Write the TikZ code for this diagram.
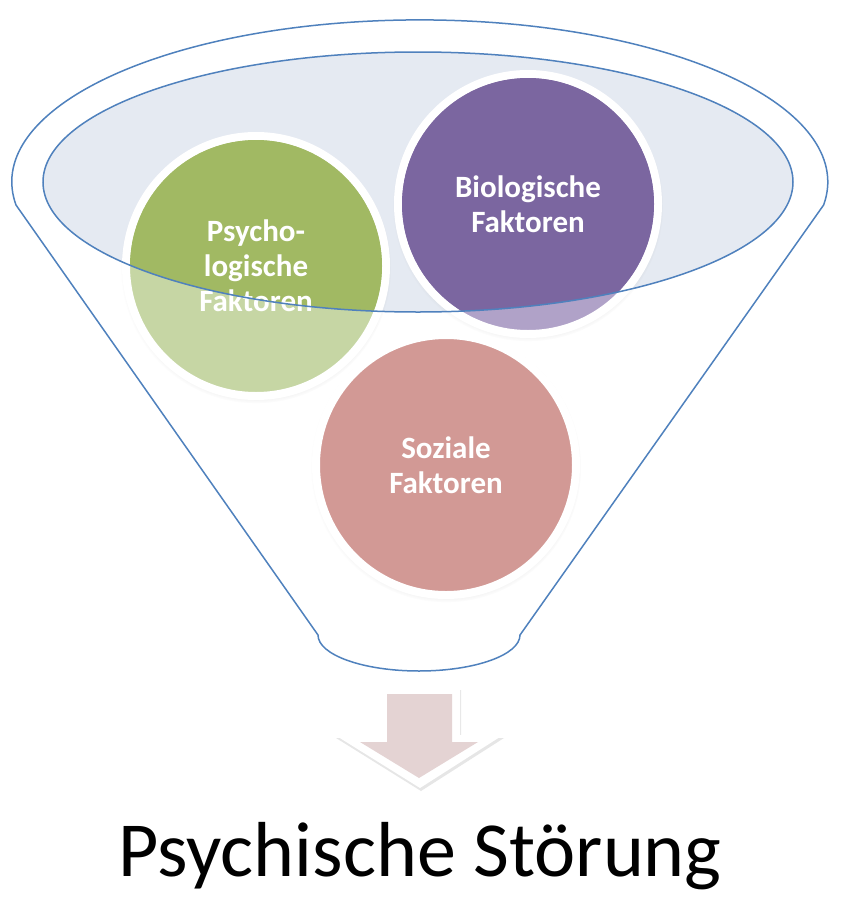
\documentclass[tikz,border=0pt]{standalone}
\usepackage{fontspec}
\setmainfont{Carlito}
\usetikzlibrary{shadows}
\definecolor{funnelblue}{HTML}{4F81BD}
\definecolor{ellblue}{HTML}{E5EAF2}
\definecolor{psyfull}{HTML}{A1B963}
\definecolor{psyfade}{HTML}{C6D6A4}
\definecolor{biofull}{HTML}{7B66A0}
\definecolor{biofade}{HTML}{B0A2C8}
\definecolor{sozfade}{HTML}{D29995}
\definecolor{arrowfill}{HTML}{E4D3D3}
\begin{document}
\begin{tikzpicture}[x=1pt,y=-1pt,
  every node/.style={inner sep=0pt},
  ball/.style={circle,minimum size=260pt,draw=white,line width=8pt,
    circular drop shadow={shadow xshift=0pt,shadow yshift=-2pt,shadow scale=1.04,opacity=0.35}},
  lbl/.style={text=white,align=center,font=\bfseries\fontsize{31}{35}\selectfont},
  rim/.style={draw=funnelblue,line width=1.5pt}]
\useasboundingbox (0,0) rectangle (858,900);
\draw[rim,fill=white] (16,205) arc[start angle=171.8,end angle=368.2,x radius=408,y radius=162]
  -- (520,635) arc[start angle=0,end angle=180,x radius=101,y radius=36] -- cycle;
\fill[ellblue] (418,182) ellipse[x radius=375,y radius=130];
\node[ball,fill=psyfade] (psy) at (256,266) {};
\node[ball,fill=biofade] (bio) at (528,204) {};
\node[ball,fill=sozfade] (soz) at (446,465) {};
\begin{scope}
\clip (418,182) ellipse[x radius=375,y radius=130];
\fill[psyfull] (psy) circle[radius=126];
\fill[biofull] (bio) circle[radius=126];
\end{scope}
\node[lbl] (psytext) at (psy) {Psycho-\\logische\\Faktoren};
\node[lbl] (biotext) at (bio) {Biologische\\Faktoren};
\node[lbl] (soztext) at (soz) {Soziale\\Faktoren};
\draw[rim] (418,182) ellipse[x radius=375,y radius=130];
\fill[white,drop shadow={shadow xshift=1pt,shadow yshift=-3pt,opacity=0.2}]
  (378,687) -- (460,687) -- (460,735) -- (503,735) -- (420,788)
  -- (335,735) -- (378,735) -- cycle;
\fill[arrowfill] (387,694) -- (452,694) -- (452,742) -- (478,742) -- (419,778)
  -- (360,742) -- (387,742) -- cycle;
\node[anchor=base,font=\fontsize{78}{84}\selectfont] (stoerung) at (420,876) {Psychische Störung};
\end{tikzpicture}
\end{document}
